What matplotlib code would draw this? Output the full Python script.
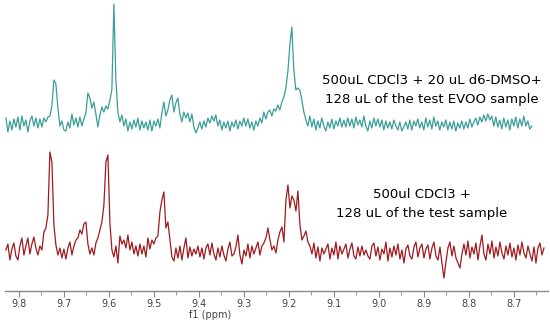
import numpy as np
import matplotlib
matplotlib.use("Agg")
import matplotlib.pyplot as plt
from matplotlib.ticker import MultipleLocator

# ---- data (intensities above each trace's baseline, arbitrary units) ----
ppm_top_start, ppm_top_end = 9.829, 8.660
ppm_bot_start, ppm_bot_end = 9.829, 8.633

teal_int = [
    6, -8, 3, -6, 5, -3, 7, -6, 8, -2,
    4, -8, 3, 8, -2, 6, -4, 5, -3, 6,
    2, 7, 8, 18, 44, 40, 16, -2, 3, -6,
    -7, 2, -4, 10, -1, 6, -3, 7, -2, 5,
    11, 31, 26, 16, 22, 10, -3, 9, 17, 12,
    18, 15, 24, 34, 120, 44, 12, 2, 9, -2,
    5, -7, 2, -5, 4, -3, 6, -6, 3, -4,
    2, -6, 4, -7, 3, -2, 5, -4, 11, 22,
    8, 14, 24, 29, 12, 21, 26, 10, 2, 12,
    6, 11, 2, 10, -3, -9, -4, 2, -5, 3,
    -3, 6, 1, 8, 3, 9, -2, 4, -6, 2,
    -4, 3, -7, 2, -3, 4, -5, 3, -2, 6,
    -2, 5, -4, 2, -6, 3, -2, 6, 1, 12,
    5, 12, 14, 8, 15, 13, 19, 14, 22, 27,
    36, 52, 79, 97, 54, 34, 36, 34, 24, 12,
    4, -2, 8, -3, 5, -6, 3, -4, 6, -2,
    -7, 2, -4, 5, -5, 3, -2, 6, -3, 4,
    -3, 6, -2, 5, -4, 7, -1, 4, -3, 8,
    -2, -7, 3, -4, 6, -2, 5, -3, 4, -6,
    3, -4, 2, -5, 4, -2, -6, 2, -7, -3,
    2, -5, 4, -6, 3, -2, 5, -4, 2, -6,
    6, -3, 4, -5, 7, -2, 3, -6, 2, -3,
    4, -6, 2, -5, 3, -7, 1, -4, 3, -5,
    2, -4, 5, -3, 2, 6, -1, 7, 2, 9,
    3, 10, 4, 8, -2, 7, -3, 4, -5, 6,
    -3, 4, -6, 5, -2, 7, -4, 5, -2, 8,
    -2, 3, -5, -2,
]

red_int = [
    2, 8, -8, 3, 9, -4, -8, 6, 14, -3,
    6, 14, -2, 8, 15, 4, -3, 6, 2, 20,
    24, 37, 100, 90, 27, 7, -3, 4, -6, 3,
    -7, 4, 10, -3, 6, 12, 14, 22, 18, 28,
    30, 8, -2, 4, -3, 9, 14, 22, 30, 47,
    90, 97, 29, 2, -5, 6, -11, 16, 8, 12,
    4, 17, 2, 10, -2, 6, -4, 8, -2, 6,
    -5, 14, 3, 12, 8, 14, 16, 40, 52, 60,
    24, 30, 12, -5, -9, 4, -6, 6, -8, 4,
    14, -6, 5, -4, 3, -2, 6, -5, 4, -7,
    4, 8, -3, 9, -2, -8, 4, -5, 6, -3,
    -9, 3, 10, -4, -2, 5, 17, -3, -12, 2,
    -4, 8, -6, 6, -2, 4, 10, -3, 6, 9,
    14, 24, 12, 2, 6, -1, 12, 20, 25, 10,
    52, 67, 44, 56, 52, 41, 61, 27, 12, 16,
    21, 10, 6, -2, 9, -6, 5, -9, 4, -2,
    3, 8, -7, 4, -3, 10, -7, 6, -2, 3,
    8, -6, 3, 9, -4, -7, 5, -4, 6, -3,
    2, -4, -7, 6, 9, -4, 5, -8, 3, -2,
    10, -9, 4, -5, 6, -3, 8, -7, 2, -11,
    3, 7, -4, -7, 5, 10, -5, 4, 8, -6,
    3, 7, -7, 4, 10, -4, -8, 5, -11, -26,
    -10, 4, 10, -4, 6, -6, -11, -16, -2, 8,
    -3, 11, -6, 5, -2, 9, -8, 6, 17, -2,
    -8, 8, -2, 11, -6, 5, -4, 10, -1, -7,
    6, -3, 9, -5, 4, -8, 7, -3, 10, -1,
    -6, 6, -2, -9, 5, -11, 4, 9, -3, 4,
]

top_label = ["500uL CDCl3 + 20 uL d6-DMSO+", "128 uL of the test EVOO sample"]
bot_label = ["500ul CDCl3 +", "128 uL of the test sample"]
xlabel = "f1 (ppm)"

# ---- figure ----
W, H = 550, 322
fig = plt.figure(figsize=(W / 100, H / 100), dpi=100)
ax = fig.add_axes([5 / W, 31 / H, 543 / W, 291 / H])

ppm_top = np.linspace(ppm_top_start, ppm_top_end, len(teal_int))
ppm_bot = np.linspace(ppm_bot_start, ppm_bot_end, len(red_int))

top_base, bot_base = 167, 39
ax.plot(ppm_top, np.array(teal_int) + top_base, color="#3a9e98", lw=0.9)
ax.plot(ppm_bot, np.array(red_int) + bot_base, color="#a01a1e", lw=0.9)

ax.set_xlim(9.831, 8.624)
ax.set_ylim(0, 291)

for s in ["top", "left", "right"]:
    ax.spines[s].set_visible(False)
ax.spines["bottom"].set_color("#888888")
ax.spines["bottom"].set_linewidth(1.0)
ax.set_yticks([])
ax.xaxis.set_major_locator(MultipleLocator(0.1))
ax.xaxis.set_minor_locator(MultipleLocator(0.05))
ax.tick_params(axis="x", which="major", length=4, color="#888888",
               labelsize=7, labelcolor="#444444", pad=1.5)
ax.tick_params(axis="x", which="minor", length=3, color="#888888")
ax.set_xlabel(xlabel, fontsize=7, color="#444444")
ax.xaxis.set_label_coords(0.378, -0.064)

tkw = dict(transform=fig.transFigure, ha="center", va="center",
           fontsize=9.5, color="black", family="DejaVu Sans")
fig.text(432 / W, 1 - 81 / H, top_label[0], **tkw)
fig.text(432 / W, 1 - 100 / H, top_label[1], **tkw)
fig.text(422 / W, 1 - 194 / H, bot_label[0], **tkw)
fig.text(422 / W, 1 - 214 / H, bot_label[1], **tkw)

fig.savefig("out.png", dpi=100)
